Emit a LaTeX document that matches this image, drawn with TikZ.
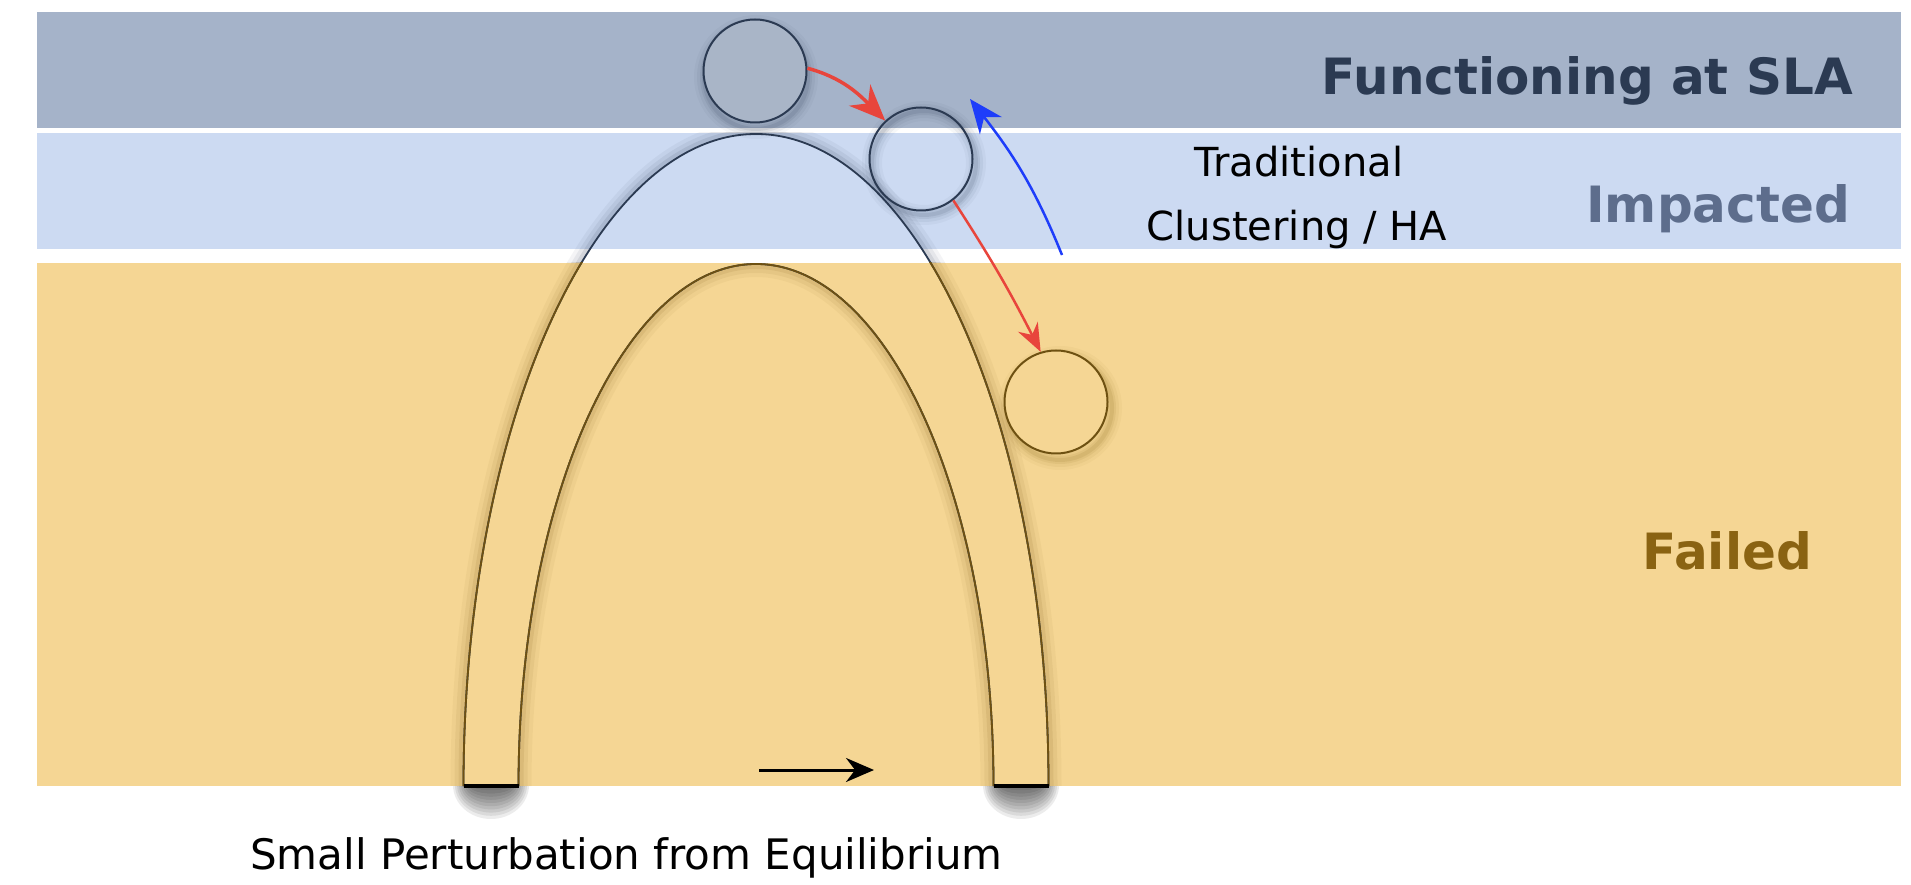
\documentclass[tikz,border=0pt]{standalone}
\usepackage{fontspec}
\setmainfont{DejaVu Sans}
\usetikzlibrary{arrows.meta}
\definecolor{topband}{HTML}{A5B3C9}
\definecolor{midband}{HTML}{CCDAF2}
\definecolor{botband}{HTML}{F5D694}
\definecolor{navy}{HTML}{2B3A52}
\definecolor{impc}{HTML}{5D6D8C}
\definecolor{failc}{HTML}{8A6312}
\definecolor{brownline}{HTML}{6E5112}
\definecolor{brownshadow}{HTML}{7A5A10}
\definecolor{redarr}{HTML}{E8453C}
\definecolor{bluearr}{HTML}{1E3DFA}
\definecolor{ballone}{HTML}{A9B5C7}
\newcommand\archlines[1]{%
  \draw[#1] (463.5,98) arc[start angle=180,end angle=0,x radius=292.5,y radius=652];
  \draw[#1] (518.5,98) arc[start angle=180,end angle=0,x radius=237.5,y radius=522];}
% drop shadow of the arch ring: outside the outer curve, inside the inner curve
\newcommand\archshadow[1]{%
  \foreach \w/\o in {13/0.05,9/0.07,5/0.10}{%
    \draw[#1,opacity=\o,line width=\w pt] ({463.5-\w/2},98) arc[start angle=180,end angle=0,x radius={292.5+\w/2},y radius={652+\w/2}];
    \draw[#1,opacity=\o,line width=\w pt] ({518.5+\w/2},98) arc[start angle=180,end angle=0,x radius={237.5-\w/2},y radius={522-\w/2}];
  }}
\tikzset{
  ball/.style={circle,minimum size=103pt,inner sep=0pt,line width=2pt},
  bandlabel/.style={font=\fontsize{50}{60}\selectfont\bfseries,anchor=base east,inner sep=0pt},
  plainlabel/.style={font=\fontsize{40}{50}\selectfont,inner sep=0pt},
}
\begin{document}
\begin{tikzpicture}[x=1pt,y=1pt]
\useasboundingbox (0,0) rectangle (1911,884);
\fill[white] (0,0) rectangle (1911,884);
% bands
\fill[topband] (37,756) rectangle (1901,872);
\fill[midband] (37,635) rectangle (1901,751);
\fill[botband] (37,98) rectangle (1901,621);
% arch shadows
\begin{scope}
  \clip (37,621) rectangle (1901,751);
  \archshadow{navy}
\end{scope}
\begin{scope}
  \clip (37,98) rectangle (1901,621);
  \archshadow{brownshadow}
\end{scope}
\archlines{line width=1.8pt,navy}
\begin{scope}
  \clip (37,98) rectangle (1901,621);
  \archlines{line width=1.8pt,brownline}
\end{scope}
% leg bottom shadows
\begin{scope}
  \clip (0,0) rectangle (1911,98);
  \foreach \k in {1,...,10}{
    \fill[black,opacity=0.075] (491,99) ellipse [x radius=18+2*\k, y radius=2+3.2*\k];
    \fill[black,opacity=0.075] (1021,99) ellipse [x radius=18+2*\k, y radius=2+3.2*\k];
  }
\end{scope}
\draw[line width=4.5pt] (463.5,98) -- (518.5,98);
\draw[line width=4.5pt] (993.5,98) -- (1048.5,98);
% ball shadows
\foreach \w/\o in {20/0.04,14/0.06,8/0.08,4/0.1}{
  \draw[navy,opacity=\o,line width=\w pt] (756,807) circle (52);
  \draw[navy,opacity=\o,line width=\w pt] (924,721) circle (52);
  \draw[brownshadow,opacity=\o,line width=\w pt] (1060,476) circle (52);
}
% balls
\node[ball,draw=navy,fill=ballone] (c1) at (755,813) {};
\node[ball,draw=navy] (c2) at (921,725) {};
\node[ball,draw=brownline,fill=botband] (c3) at (1056,482) {};
% arrows
\draw[redarr,line width=3.5pt,-{Stealth[length=36pt,width=30pt]}] (c1.3) to[out=-15,in=135] (c2.133);
\draw[redarr,line width=2.5pt,-{Stealth[length=28pt,width=22pt]}] (c2.-52) to[out=-57,in=117] (c3.107);
\coordinate (bstart) at (1062,629);
\coordinate (btip) at (970,785);
\draw[bluearr,line width=2.5pt,-{Stealth[length=34pt,width=28pt]}] (bstart) to[out=112,in=-52] (btip);
\coordinate (pa) at (759,114);
\coordinate (pb) at (874,114);
\draw[black,line width=3pt,-{Stealth[length=28pt,width=24pt]}] (pa) -- (pb);
% labels
\node[bandlabel,text=navy] (sla) at (1853,789) {Functioning at SLA};
\node[bandlabel,text=impc] (imp) at (1850,661) {Impacted};
\node[bandlabel,text=failc] (fail) at (1812,314) {Failed};
\node[plainlabel,anchor=base] (trad1) at (1299,707) {Traditional};
\node[plainlabel,anchor=base] (trad2) at (1297,643) {Clustering / HA};
\node[plainlabel,font=\fontsize{42}{50}\selectfont,anchor=base west] (pert) at (250,15) {Small Perturbation from Equilibrium};
\end{tikzpicture}
\end{document}
